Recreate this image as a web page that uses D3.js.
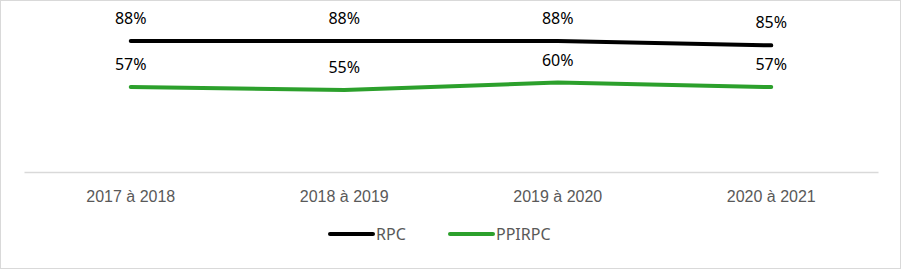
<!DOCTYPE html>
<html>
<head>
<meta charset="utf-8">
<script src="https://cdn.jsdelivr.net/npm/d3@7"></script>
<style>
  body { margin: 0; background: #fff; }
  svg { display: block; font-family: "Noto Sans", "Liberation Sans", sans-serif; }
</style>
</head>
<body>
<svg id="chart"></svg>
<script>
// Data
const periods = ["2017 à 2018", "2018 à 2019", "2019 à 2020", "2020 à 2021"];
const rpc = [88, 88, 88, 85];
const ppirpc = [57, 55, 60, 57];
const seriesNames = ["RPC", "PPIRPC"];
const seriesColors = ["#000000", "#2ca02c"];

const width = 901, height = 269;
const margin = { top: 23, right: 23, bottom: 97, left: 24 };

const svg = d3.select('#chart')
    .attr('width', width)
    .attr('height', height);

// border
svg.append('rect')
    .attr('x', 0.5).attr('y', 0.5)
    .attr('width', width - 1).attr('height', height - 1)
    .attr('fill', '#fff')
    .attr('stroke', '#d9d9d9');

const chart = svg.append('g').attr('transform', `translate(${margin.left},${margin.top})`);
const innerW = width - margin.left - margin.right;
const innerH = height - margin.top - margin.bottom;

const x = d3.scaleBand().domain(periods).range([0, innerW]);
const y = d3.scaleLinear().domain([0, 100]).range([innerH, 0]);

// x axis
const xAxis = chart.append('g')
    .attr('transform', `translate(0,${innerH})`)
    .call(d3.axisBottom(x).tickSize(0).tickPadding(19));
xAxis.select('.domain').attr('stroke', '#d9d9d9').attr('stroke-width', 1.5);
xAxis.selectAll('text')
    .attr('fill', '#595959')
    .style('font-size', '16px')
    .style('font-family', 'inherit');

const series = [rpc, ppirpc];
const line = d3.line()
    .x((d, i) => x(periods[i]) + x.bandwidth() / 2)
    .y(d => y(d));

series.forEach((vals, s) => {
    chart.append('path')
        .datum(vals)
        .attr('fill', 'none')
        .attr('stroke', seriesColors[s])
        .attr('stroke-width', 4)
        .attr('stroke-linecap', 'round')
        .attr('stroke-linejoin', 'round')
        .attr('d', line);

    chart.selectAll('.lbl' + s)
        .data(vals)
        .join('text')
        .attr('x', (d, i) => x(periods[i]) + x.bandwidth() / 2)
        .attr('y', d => y(d) - 17)
        .attr('text-anchor', 'middle')
        .attr('fill', '#000')
        .style('font-size', '16px')
        .text(d => d + '%');
});

// legend
const legendX = [330, 450];
const legend = svg.append('g').attr('transform', 'translate(0,234)');
seriesNames.forEach((name, s) => {
    legend.append('line')
        .attr('x1', legendX[s]).attr('x2', legendX[s] + 43)
        .attr('stroke', seriesColors[s])
        .attr('stroke-width', 4)
        .attr('stroke-linecap', 'round');
    legend.append('text')
        .attr('x', legendX[s] + 46)
        .attr('y', 6)
        .attr('fill', '#595959')
        .style('font-size', '16px')
        .text(name);
});
</script>
</body>
</html>
